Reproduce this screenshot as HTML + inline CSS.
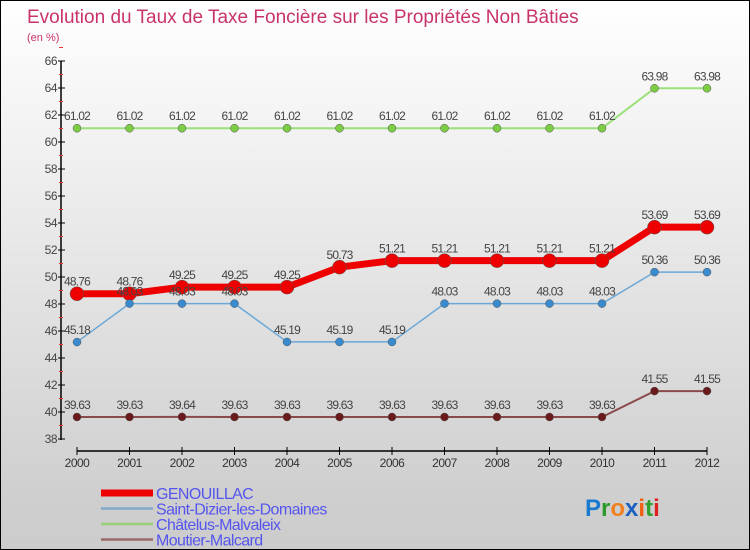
<!DOCTYPE html>
<html><head><meta charset="utf-8"><style>
body{margin:0}
#c{width:750px;height:550px;position:relative;box-sizing:border-box;border:1px solid #000;background:linear-gradient(#fff,#cfcfcf 90%,#cccccc);font-family:"Liberation Sans",sans-serif;overflow:hidden}
svg{position:absolute;left:0;top:0}
</style></head><body>
<div id="c">
<svg id="s" width="750" height="550">
<text x="26" y="22" font-size="19" fill="#c8336b">Evolution du Taux de Taxe Foncière sur les Propriétés Non Bâties</text>
<text x="26" y="40" font-size="11" fill="#c8336b">(en %)</text>
</svg>
</div>
<script>
const years=[2000,2001,2002,2003,2004,2005,2006,2007,2008,2009,2010,2011,2012];
const genouillac=[48.76,48.76,49.25,49.25,49.25,50.73,51.21,51.21,51.21,51.21,51.21,53.69,53.69];
const saintDizier=[45.18,48.03,48.03,48.03,45.19,45.19,45.19,48.03,48.03,48.03,48.03,50.36,50.36];
const chatelus=[61.02,61.02,61.02,61.02,61.02,61.02,61.02,61.02,61.02,61.02,61.02,63.98,63.98];
const moutier=[39.63,39.63,39.64,39.63,39.63,39.63,39.63,39.63,39.63,39.63,39.63,41.55,41.55];
const yTicks=[38,40,42,44,46,48,50,52,54,56,58,60,62,64,66];
const seriesNames=["GENOUILLAC","Saint-Dizier-les-Domaines","Châtelus-Malvaleix","Moutier-Malcard"];
const NS="http://www.w3.org/2000/svg",svg=document.getElementById('s');
const X=i=>76+i*52.5, Y=v=>438-(v-38)*(378/28);
function el(t,a,p){const e=document.createElementNS(NS,t);for(const k in a)e.setAttribute(k,a[k]);(p||svg).appendChild(e);return e;}
// axes
let ax=el('line',{x1:60,y1:60,x2:60,y2:439,stroke:'#000','stroke-width':1.5});


let xa=el('line',{x1:76,y1:450,x2:706,y2:450,stroke:'#000','stroke-width':1.5});


yTicks.forEach(v=>{
 el('line',{x1:57,y1:Y(v),x2:64,y2:Y(v),stroke:'#000'});
 el('line',{x1:58,y1:Y(v+1),x2:62,y2:Y(v+1),stroke:'#e33'});
 const t=el('text',{x:56,y:Y(v)+4,'font-size':12,fill:'#444','text-anchor':'end','letter-spacing':'-0.5'});
 t.textContent=v;
 
 
});
years.forEach((yr,i)=>{
 el('line',{x1:X(i),y1:446,x2:X(i),y2:454,stroke:'#000'});
 const t=el('text',{x:X(i),y:466,'font-size':12,fill:'#333','text-anchor':'middle','letter-spacing':'-0.5'});
 t.textContent=yr;
 
 
});
function series(vals,color,w,r,dot,name){
 const g=el('g',{});
 
 
 el('polyline',{points:vals.map((v,i)=>X(i)+','+Y(v)).join(' '),fill:'none',stroke:color,'stroke-width':w},g);
 vals.forEach((v,i)=>{
  const c=el('circle',{cx:X(i),cy:Y(v),r:r,fill:dot,stroke:'#555','stroke-width':0.5},g);
  
  
  const t=el('text',{x:X(i),y:Y(v)-8,'font-size':12,fill:'#444','text-anchor':'middle','letter-spacing':'-0.8'},g);
  t.textContent=v.toFixed(2);
  
  
 });
}
series(chatelus,'#9be07a',2,4,'#7ccc44','series-chatelus');
series(moutier,'#8b4a4a',2,4,'#6a1a1a','series-moutier');
series(genouillac,'#e00',7,7,'#e00','series-genouillac');
series(saintDizier,'#6aa8d8',1.5,4,'#3a8ad0','series-saint-dizier');
// legend
const lc=['#e00','#80a8c8','#9ad07a','#9a6a6a'],lw=[7,2.5,2.5,2.5];
seriesNames.forEach((n,i)=>{
 const y=492+i*15.5;
 const g=el('g',{});
 
 
 el('line',{x1:100,y1:y,x2:152,y2:y,stroke:lc[i],'stroke-width':lw[i]},g);
 const t=el('text',{x:155,y:y+6,'font-size':16,fill:'#5555ee','letter-spacing':'-0.6'},g);
 t.textContent=n;
});
const logo=el('text',{x:584,y:515,'font-size':24,'font-weight':'bold'});


[['P','#1a7ad0'],['r','#2a9a2a'],['o','#f08020'],['x','#1a60c0'],['i','#f06010'],['t','#30a030'],['i','#e02020']].forEach(([c,f])=>{const s=el('tspan',{fill:f},logo);s.textContent=c;});
</script>
</body></html>
